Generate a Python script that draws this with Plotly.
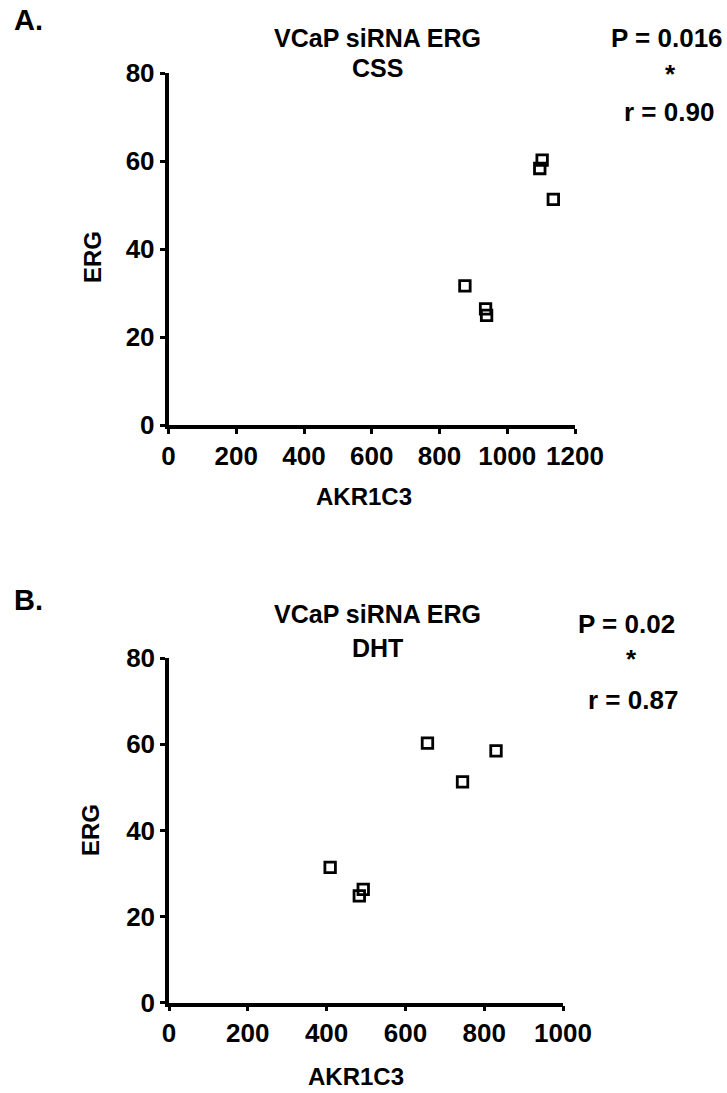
import plotly.graph_objects as go

W, H = 727, 1093

# Data
css_akr1c3 = [875, 936, 939, 1103, 1096, 1136]
css_erg = [31.6, 26.4, 24.9, 60.2, 58.3, 51.3]
dht_akr1c3 = [409, 483, 493, 656, 745, 830]
dht_erg = [31.4, 24.8, 26.3, 60.3, 51.3, 58.5]

css_xticks = [0, 200, 400, 600, 800, 1000, 1200]
dht_xticks = [0, 200, 400, 600, 800, 1000]
yticks = [0, 20, 40, 60, 80]

FONT = "Liberation Sans"


def px(x):
    return x / W


def py(y):
    return 1 - y / H


fig = go.Figure()

marker = dict(symbol="square-open", size=10.5, color="black", line=dict(width=2.8, color="black"))
fig.add_trace(go.Scatter(x=css_akr1c3, y=css_erg, mode="markers", marker=marker,
                         xaxis="x", yaxis="y", cliponaxis=False, showlegend=False))
fig.add_trace(go.Scatter(x=dht_akr1c3, y=dht_erg, mode="markers", marker=marker,
                         xaxis="x2", yaxis="y2", cliponaxis=False, showlegend=False))

tickfont = dict(family=FONT, size=26, color="black", weight="bold")
axis_common = dict(showgrid=False, zeroline=False, showline=True, linecolor="black",
                   linewidth=3.5, ticks="outside", ticklen=5, tickwidth=2.5, tickcolor="black",
                   tickfont=tickfont, fixedrange=True, automargin=False)

fig.update_layout(
    width=W, height=H,
    margin=dict(l=0, r=0, t=0, b=0, autoexpand=False),
    paper_bgcolor="white", plot_bgcolor="white",
    xaxis=dict(domain=[px(168.5), px(575)], range=[0, 1200], tickvals=css_xticks,
               anchor="y", **axis_common),
    yaxis=dict(domain=[py(425), py(73)], range=[0, 80], tickvals=yticks,
               anchor="x", **axis_common),
    xaxis2=dict(domain=[px(169), px(563)], range=[0, 1000], tickvals=dht_xticks,
                anchor="y2", **axis_common),
    yaxis2=dict(domain=[py(1002.5), py(658.3)], range=[0, 80], tickvals=yticks,
                anchor="x2", **axis_common),
)


def txt(x, y, text, size, angle=0):
    fig.add_annotation(x=px(x), y=py(y), xref="paper", yref="paper", text=text,
                       showarrow=False, xanchor="center", yanchor="middle", textangle=angle,
                       font=dict(family=FONT, size=size, color="black", weight="bold"))


# Panel A
txt(29, 20, "A.", 29)
txt(377, 38, "VCaP siRNA ERG", 25)
txt(377, 68, "CSS", 25)
txt(667, 38, "P = 0.016", 26)
txt(670, 74, "*", 26)
txt(669, 112, "r = 0.90", 26)
txt(92, 257, "ERG", 24, angle=-90)
txt(364, 497, "AKR1C3", 24)

# Panel B
txt(29, 600, "B.", 29)
txt(377, 614, "VCaP siRNA ERG", 25)
txt(377, 648, "DHT", 25)
txt(626, 624, "P = 0.02", 26)
txt(631, 659, "*", 26)
txt(633, 700, "r = 0.87", 26)
txt(90, 830, "ERG", 24, angle=-90)
txt(356, 1076, "AKR1C3", 24)

fig.write_html("out.html")
